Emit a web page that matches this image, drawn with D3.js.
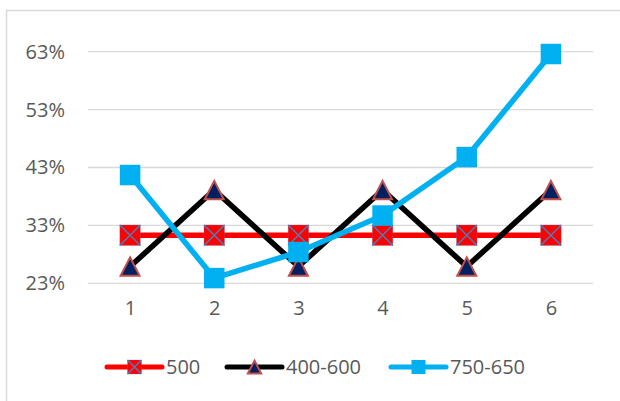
<!DOCTYPE html>
<html>
<head>
<meta charset="utf-8">
<script src="https://cdn.jsdelivr.net/npm/d3@7"></script>
<style>
html,body{margin:0;padding:0;background:#fff;}
svg{display:block;}
text{font-family:"Open Sans","Liberation Sans",sans-serif;fill:#595959;}
</style>
</head>
<body>
<svg id="chart" width="620" height="401"></svg>
<script>
const categories = ["1","2","3","4","5","6"];
const tickLabels = [0.23,0.33,0.43,0.53,0.63];
const seriesNames = ["500","400-600","750-650"];
const s500 = [0.313,0.313,0.313,0.313,0.313,0.313];
const s400_600 = [0.259,0.391,0.259,0.391,0.259,0.391];
const s750_650 = [0.417,0.239,0.284,0.347,0.448,0.626];

const svg = d3.select("#chart");
const W = 620, H = 401;

// outer border
svg.append("rect").attr("x",6.5).attr("y",10.5).attr("width",W+10).attr("height",H+10)
  .attr("fill","#fff").attr("stroke","#D9D9D9").attr("stroke-width",1.5);

const x = d3.scalePoint().domain(categories).range([88,593]).padding(0.5);
const y = d3.scaleLinear().domain([0.23,0.63]).range([283.3,51.7]);

// gridlines
svg.append("g").selectAll("line").data(tickLabels).join("line")
  .attr("x1",88).attr("x2",593)
  .attr("y1",d=>y(d)).attr("y2",d=>y(d))
  .attr("stroke","#D9D9D9").attr("stroke-width",1.3);

// y axis labels
const yAxis = d3.axisLeft(y).tickValues(tickLabels).tickFormat(d3.format(".0%")).tickSize(0).tickPadding(0);
const gy = svg.append("g").attr("transform","translate(65,0)").call(yAxis);
gy.select(".domain").remove();
gy.selectAll("text").attr("font-size",20).attr("font-family",null).style("fill","#595959");

// x axis labels
const xAxis = d3.axisBottom(x).tickSize(0).tickPadding(0);
const gx = svg.append("g").attr("transform","translate(0,301)").call(xAxis);
gx.select(".domain").remove();
gx.selectAll("text").attr("font-size",20).attr("font-family",null).attr("dy","0.71em").style("fill","#595959");

const colors = ["#FF0000","#000000","#00B0F0"];
const data = [s500, s400_600, s750_650];

function drawMarker(g, type, size){
  if(type===0){
    const h=size/2;
    g.append("rect").attr("x",-h).attr("y",-h).attr("width",size).attr("height",size)
      .attr("fill","#FF0000").attr("stroke","#4A7EBB").attr("stroke-opacity",0.35).attr("stroke-width",0.8);
    g.append("path").attr("d",`M${-h},${-h}L${h},${h}M${h},${-h}L${-h},${h}`)
      .attr("stroke","#4A7EBB").attr("stroke-width",1.5);
  } else if(type===1){
    const w=size*0.95, hh=size*0.92;
    g.append("path").attr("d",`M0,${-hh/2}L${w/2},${hh/2}L${-w/2},${hh/2}Z`)
      .attr("fill","#002060").attr("stroke","#C0504D").attr("stroke-width",2).attr("stroke-linejoin","miter");
  } else {
    const h=size/2;
    g.append("rect").attr("x",-h).attr("y",-h).attr("width",size).attr("height",size)
      .attr("fill","#00B0F0");
  }
}

const line = d3.line().x((d,i)=>x(categories[i])).y(d=>y(d));

data.forEach((vals,si)=>{
  const g = svg.append("g");
  g.append("path").datum(vals).attr("d",line)
    .attr("fill","none").attr("stroke",colors[si]).attr("stroke-width",5.5)
    .attr("stroke-linejoin","round").attr("stroke-linecap","round");
  vals.forEach((v,i)=>{
    const mg = g.append("g").attr("transform",`translate(${x(categories[i])},${y(v)})`);
    drawMarker(mg, si, si===1?20:20.5);
  });
});

// legend
const legendX = [107, 227, 391];
const legendY = 367;
seriesNames.forEach((name,si)=>{
  const g = svg.append("g").attr("transform",`translate(${legendX[si]},${legendY})`);
  g.append("line").attr("x1",0).attr("x2",55).attr("y1",0).attr("y2",0)
    .attr("stroke",colors[si]).attr("stroke-width",5).attr("stroke-linecap","round");
  const mg = g.append("g").attr("transform","translate(27.5,0)");
  drawMarker(mg, si, 14);
  g.append("text").attr("x",59).attr("y",0).attr("dy","0.36em")
    .attr("font-size",20).text(name);
});
</script>
</body>
</html>
